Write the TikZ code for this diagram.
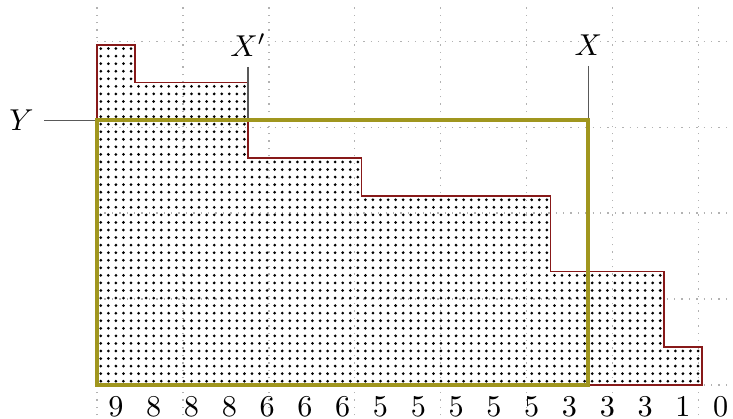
\documentclass[tikz,border=0pt]{standalone}
\usepackage{xcolor}
\usepackage{tikz}
\definecolor{boxolive}{RGB}{160,150,30}
\definecolor{shapered}{RGB}{135,25,25}

\begin{document}
\begin{tikzpicture}[
    x=0.44cm,y=0.44cm,
    gridline/.style={gray!60,dotted,line width=0.45pt},
    outline/.style={shapered,line width=0.5pt},
    rect/.style={boxolive,line width=1.35pt},
    tick/.style={black!65,line width=0.5pt},
    lbl/.style={inner sep=1pt}
]
\useasboundingbox (-2.566,-0.873) rectangle (16.825,10.185);

% background grid
\draw[gridline] (0,-1) grid (17,10);

% dotted diagram
\begin{scope}
\clip (0,0) -- (0,9) -- (1,9) -- (1,8) -- (4,8) -- (4,6) -- (7,6) -- (7,5)
  -- (12,5) -- (12,3) -- (15,3) -- (15,1) -- (16,1) -- (16,0) -- cycle;
\foreach \i in {0,...,79}
  \foreach \j in {0,...,44}
    \fill (0.1+0.2*\i,0.1+0.2*\j) circle (0.5pt);
\end{scope}
\draw[outline] (0,0) -- (0,9) -- (1,9) -- (1,8) -- (4,8) -- (4,6) -- (7,6) -- (7,5)
  -- (12,5) -- (12,3) -- (15,3) -- (15,1) -- (16,1) -- (16,0) -- cycle;

% column lengths
\foreach \v [count=\i from 0] in {9,8,8,8,6,6,6,5,5,5,5,5,3,3,3,1,0}
  \node[lbl] (l\i) at (\i+0.5,-0.58) {$\v$};

% markers
\coordinate (ycut) at (0,7);
\coordinate (xpcut) at (4,7);
\coordinate (xcut) at (13,7);
\node (y) at (-2,7) {$Y$};
\node (xp) at (4,9) {$X'$};
\node (x) at (13,9) {$X$};
\draw[tick] (y) -- (ycut);
\draw[tick] (xp) -- (xpcut);
\draw[tick] (x) -- (xcut);

% rectangle
\draw[rect] (0,0) rectangle (13,7);
\end{tikzpicture}
\end{document}
